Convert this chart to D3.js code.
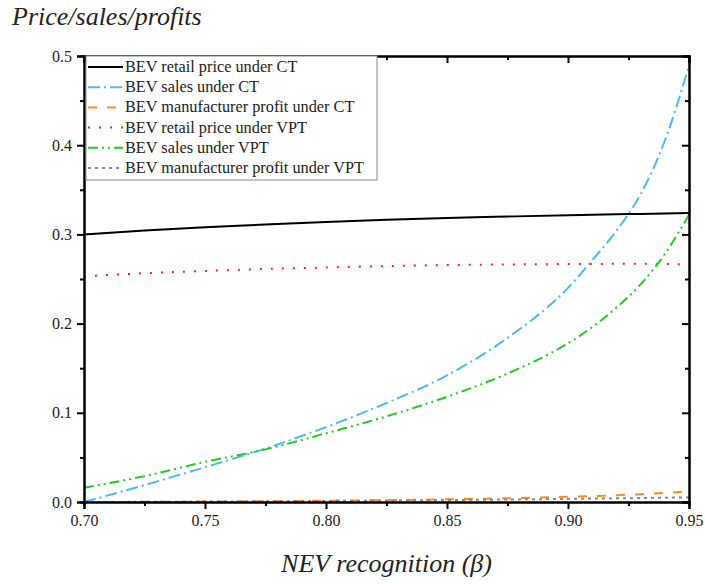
<!DOCTYPE html>
<html>
<head>
<meta charset="utf-8">
<script src="https://cdn.jsdelivr.net/npm/d3@7"></script>
<style>
  body { margin: 0; background: #fff; }
  svg { display: block; font-family: "Liberation Serif", "Times New Roman", serif; }
</style>
</head>
<body>
<svg id="chart" width="705" height="584"></svg>
<script>
"use strict";

// values
var beta = [0.70, 0.725, 0.75, 0.775, 0.80, 0.825, 0.85, 0.875, 0.90, 0.91, 0.92, 0.93, 0.94, 0.95];
var priceCT = [0.300, 0.3045, 0.308, 0.311, 0.314, 0.3165, 0.3185, 0.320, 0.3215, 0.322, 0.3225, 0.323, 0.3235, 0.324];
var salesCT = [0.000, 0.019, 0.039, 0.060, 0.084, 0.111, 0.142, 0.184, 0.240, 0.271, 0.304, 0.345, 0.405, 0.489];
var profitCT = [0.0000, 0.0002, 0.0005, 0.0009, 0.0014, 0.0021, 0.0030, 0.0042, 0.0058, 0.0066, 0.0076, 0.0088, 0.0102, 0.0120];
var priceVPT = [0.253, 0.2565, 0.259, 0.2612, 0.263, 0.2645, 0.2656, 0.2663, 0.2668, 0.2669, 0.267, 0.267, 0.2668, 0.2665];
var salesVPT = [0.016, 0.029, 0.045, 0.059, 0.077, 0.096, 0.118, 0.144, 0.178, 0.196, 0.218, 0.244, 0.278, 0.322];
var profitVPT = [0.0000, 0.0002, 0.0005, 0.0008, 0.0012, 0.0017, 0.0022, 0.0028, 0.0035, 0.0038, 0.0041, 0.0044, 0.0048, 0.0052];

var xTicks = [0.70, 0.75, 0.80, 0.85, 0.90, 0.95];
var yTicks = [0, 0.1, 0.2, 0.3, 0.4, 0.5];
var yTickLabels = ["0.0", "0.1", "0.2", "0.3", "0.4", "0.5"];

var seriesNames = [
  "BEV retail price under CT",
  "BEV sales under CT",
  "BEV manufacturer profit under CT",
  "BEV retail price under VPT",
  "BEV sales under VPT",
  "BEV manufacturer profit under VPT"
];
var seriesValues = [priceCT, salesCT, profitCT, priceVPT, salesVPT, profitVPT];

var styles = [
  { color: "#000000", dash: null },
  { color: "#4fb9f5", dash: "12,4,2,4" },
  { color: "#ff8c1a", dash: "9,10" },
  { color: "#ff2020", dash: "2,9" },
  { color: "#22cc22", dash: "10,4,2,4,2,4" },
  { color: "#8a8a8a", dash: "3,4" }
];

+function(d3){

  var svg = d3.select("#chart");
  var plot = { left: 84, right: 689, top: 56, bottom: 502 };
  var serif = "'Liberation Serif', 'Times New Roman', serif";

  var x = d3.scaleLinear().domain([0.70, 0.95]).range([plot.left, plot.right]);
  var y = d3.scaleLinear().domain([0, 0.5]).range([plot.bottom, plot.top]);

  // lines
  var line = d3.line()
    .x(function(d) { return x(d[0]); })
    .y(function(d) { return y(d[1]); })
    .curve(d3.curveMonotoneX);

  seriesValues.forEach(function(vals, i) {
    var pts = beta.map(function(b, j) { return [b, vals[j]]; });
    svg.append("path")
      .attr("d", line(pts))
      .attr("fill", "none")
      .attr("stroke", styles[i].color)
      .attr("stroke-width", 2)
      .attr("stroke-dasharray", styles[i].dash);
  });

  // axes
  var xMinor = [0.725, 0.775, 0.825, 0.875, 0.925];
  var yMinor = [0.05, 0.15, 0.25, 0.35, 0.45];

  function styleLabels(g) {
    g.selectAll("text")
      .style("font-family", serif)
      .style("font-size", "16px")
      .attr("fill", "#222");
  }

  svg.append("g")
    .attr("transform", "translate(0," + plot.bottom + ")")
    .call(d3.axisBottom(x).tickValues(xTicks).tickFormat(d3.format(".2f")).tickSize(7).tickPadding(6))
    .call(styleLabels);
  svg.append("g")
    .attr("transform", "translate(0," + plot.bottom + ")")
    .call(d3.axisBottom(x).tickValues(xMinor).tickFormat("").tickSize(4));

  svg.append("g")
    .attr("transform", "translate(" + plot.left + ",0)")
    .call(d3.axisLeft(y).tickValues(yTicks).tickFormat(function(d, i) { return yTickLabels[i]; }).tickSize(7).tickPadding(5))
    .call(styleLabels);
  svg.append("g")
    .attr("transform", "translate(" + plot.left + ",0)")
    .call(d3.axisLeft(y).tickValues(yMinor).tickFormat("").tickSize(4));

  // mirrored axes, ticks inward
  svg.append("g")
    .attr("transform", "translate(0," + plot.top + ")")
    .call(d3.axisBottom(x).tickValues(xTicks).tickFormat("").tickSize(7));
  svg.append("g")
    .attr("transform", "translate(0," + plot.top + ")")
    .call(d3.axisBottom(x).tickValues(xMinor).tickFormat("").tickSize(4));
  svg.append("g")
    .attr("transform", "translate(" + plot.right + ",0)")
    .call(d3.axisLeft(y).tickValues(yTicks).tickFormat("").tickSize(7));
  svg.append("g")
    .attr("transform", "translate(" + plot.right + ",0)")
    .call(d3.axisLeft(y).tickValues(yMinor).tickFormat("").tickSize(4));

  svg.selectAll(".domain").attr("stroke", "#000").attr("stroke-width", 2);
  svg.selectAll(".tick line").attr("stroke", "#000").attr("stroke-width", 2);

  // legend
  var lg = svg.append("g");
  lg.append("rect")
    .attr("x", 86).attr("y", plot.top)
    .attr("width", 291).attr("height", 124)
    .attr("fill", "#fff")
    .attr("stroke", "#888")
    .attr("stroke-width", 1);

  seriesNames.forEach(function(name, i) {
    var yy = 67 + i * 20.2;
    lg.append("line")
      .attr("x1", 88).attr("x2", 123)
      .attr("y1", yy).attr("y2", yy)
      .attr("stroke", styles[i].color)
      .attr("stroke-width", 2)
      .attr("stroke-dasharray", styles[i].dash);
    lg.append("text")
      .attr("x", 125).attr("y", yy + 5)
      .style("font-family", serif)
      .style("font-size", "16.3px")
      .attr("fill", "#222")
      .text(name);
  });

  // titles
  svg.append("text")
    .attr("x", 12).attr("y", 25)
    .style("font-family", serif)
    .style("font-size", "26px")
    .style("font-style", "italic")
    .attr("fill", "#222")
    .text("Price/sales/profits");

  svg.append("text")
    .attr("x", (plot.left + plot.right) / 2).attr("y", 572)
    .attr("text-anchor", "middle")
    .style("font-family", serif)
    .style("font-size", "26px")
    .style("font-style", "italic")
    .attr("fill", "#222")
    .text("NEV recognition (β)");

}(d3);
</script>
</body>
</html>
